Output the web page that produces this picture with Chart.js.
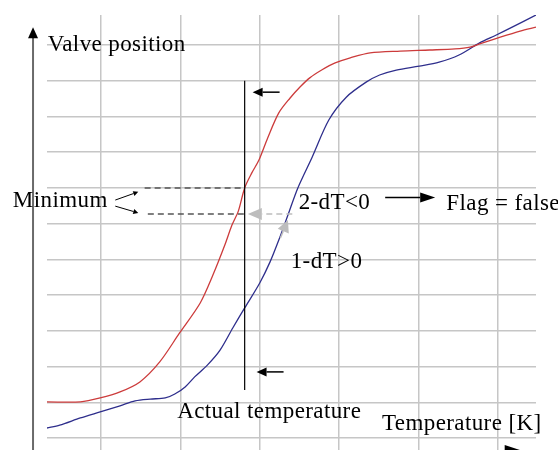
<!DOCTYPE html>
<html>
<head>
<meta charset="utf-8">
<script src="https://cdn.jsdelivr.net/npm/chart.js@4.4.1/dist/chart.umd.min.js"></script>
<style>
  html, body { margin: 0; padding: 0; background: #fff; }
  #wrap { width: 558px; height: 450px; position: relative; }
</style>
</head>
<body>
<div id="wrap"><canvas id="hysteresis-chart"></canvas></div>
<script>
// grid positions (temperature / valve position units)
const xGrid = [10, 20, 30, 40, 50, 60];
const yGrid = [0, 10, 20, 30, 40, 50, 60, 70, 80, 90, 100, 110];

// red curve (closing branch)
const redX = [3.2, 7.4, 9.9, 12.4, 14.9, 17.4, 19.9, 22.5, 24.1, 25.6, 26.5, 27.3, 28.1, 29.0, 29.9, 31.0,
  32.4, 33.8, 35.1, 36.3, 37.8, 39.5, 41.4, 43.9, 47.7, 51.4, 54.6, 56.5, 57.7, 60.3, 62.8, 64.8];
const redY = [10.1, 10.1, 11.2, 12.9, 15.7, 21.3, 29.4, 37.8, 45.6, 54.0, 59.6, 63.5, 70.0, 74.2, 77.8, 84.0,
  91.0, 95.1, 98.3, 100.8, 103.0, 105.0, 106.4, 107.8, 108.3, 108.6, 108.9, 109.4, 110.3, 112.2, 113.9, 115.0];

// blue curve (opening branch)
const blueX = [3.2, 4.8, 7.4, 9.9, 12.4, 14.3, 16.2, 18.1, 19.3, 20.6, 21.8, 23.4, 25.0, 26.6, 28.1, 30.0, 31.3,
  32.5, 33.6, 34.8, 36.6, 38.7, 40.9, 43.4, 45.1, 47.2, 50.1, 52.6, 55.1, 57.7, 59.8, 61.8, 64.8];
const blueY = [2.8, 3.6, 5.6, 7.3, 9.0, 10.4, 10.9, 11.2, 12.3, 14.3, 17.1, 20.4, 24.6, 30.8, 36.4, 43.4, 49.3,
  56.0, 62.7, 70.0, 78.6, 89.0, 95.4, 99.6, 101.6, 103.0, 104.1, 105.2, 107.2, 110.6, 112.8, 115.0, 118.4];

const actualTemp = 28.1;
const minimumHigh = 70.0;
const minimumLow = 62.7;

const toPoints = (xs, ys) => xs.map((x, i) => ({x: x, y: ys[i]}));

// draws axes arrows, helper lines and the text labels on top of the curves
const sketchPlugin = {
  id: "sketch",
  afterDatasetsDraw(chart) {
    const ctx = chart.ctx;
    const sx = v => chart.scales.x.getPixelForValue(v);
    const sy = v => chart.scales.y.getPixelForValue(v);

    const line = (x1, y1, x2, y2, color, width, dash) => {
      ctx.save();
      ctx.strokeStyle = color;
      ctx.lineWidth = width;
      ctx.setLineDash(dash || []);
      ctx.beginPath();
      ctx.moveTo(sx(x1), sy(y1));
      ctx.lineTo(sx(x2), sy(y2));
      ctx.stroke();
      ctx.restore();
    };
    // arrow from (x1,y1) to tip (x2,y2); head size in px
    const arrow = (x1, y1, x2, y2, color, width, len, half, dash) => {
      const ax = sx(x1), ay = sy(y1), bx = sx(x2), by = sy(y2);
      const ang = Math.atan2(by - ay, bx - ax);
      const baseX = bx - len * Math.cos(ang), baseY = by - len * Math.sin(ang);
      ctx.save();
      ctx.strokeStyle = color;
      ctx.fillStyle = color;
      ctx.lineWidth = width;
      ctx.setLineDash(dash || []);
      ctx.beginPath();
      ctx.moveTo(ax, ay);
      ctx.lineTo(baseX, baseY);
      ctx.stroke();
      ctx.setLineDash([]);
      ctx.beginPath();
      ctx.moveTo(bx, by);
      ctx.lineTo(baseX + half * Math.sin(ang), baseY - half * Math.cos(ang));
      ctx.lineTo(baseX - half * Math.sin(ang), baseY + half * Math.cos(ang));
      ctx.closePath();
      ctx.fill();
      ctx.restore();
    };
    const text = (str, x, y) => {
      ctx.save();
      ctx.fillStyle = "#000";
      ctx.font = "23px 'Liberation Serif', 'Times New Roman', serif";
      ctx.letterSpacing = "0.4px";
      ctx.textAlign = "left";
      ctx.textBaseline = "alphabetic";
      ctx.fillText(str, sx(x), sy(y));
      ctx.restore();
    };

    // axes
    line(1.44, -4, 1.44, 112, "#6a6a6a", 2);
    arrow(1.44, 112, 1.44, 115.0, "#000", 1, 11, 5);
    arrow(50, -3.9, 63.5, -3.9, "#000", 1.5, 21, 7);

    // actual temperature marker
    line(actualTemp, 100, actualTemp, 13.4, "#000", 1.2);
    arrow(32.5, 96.8, 29.1, 96.8, "#000", 1.5, 10, 4.5);
    arrow(33.0, 18.5, 29.6, 18.5, "#000", 1.5, 10, 4.5);

    // minimum dashed lines
    line(15.5, minimumHigh, actualTemp, minimumHigh, "#555", 1.5, [6, 4]);
    line(15.9, minimumLow, actualTemp, minimumLow, "#555", 1.5, [6, 4]);
    arrow(34.1, minimumLow, 28.5, minimumLow, "#bdbdbd", 1.5, 14, 6, [6, 4]);
    arrow(32.6, 56.0, 33.55, 61.0, "#bdbdbd", 1.5, 12, 6);

    // minimum pointers
    arrow(11.8, 66.6, 14.7, 68.9, "#000", 1, 5, 2.5);
    arrow(11.8, 64.9, 14.7, 63.0, "#000", 1, 5, 2.5);

    // flag arrow
    arrow(45.8, 67.3, 52.1, 67.3, "#000", 1.5, 15, 5);

    text("Valve position", 3.3, 108.3);
    text("Minimum", -1.1, 64.7);
    text("2-dT<0", 34.9, 64.1);
    text("Flag = false", 53.5, 63.8);
    text("1-dT>0", 33.9, 47.6);
    text("Actual temperature", 19.6, 5.6);
    text("Temperature [K]", 45.4, 2.2);
  },
};

const hysteresisChart = new Chart(document.getElementById("hysteresis-chart"), {
  type: "line",
  data: {
    datasets: [
      {
        label: "Closing",
        data: toPoints(redX, redY),
        borderColor: "#cc3b3b",
        borderWidth: 1.3,
        pointRadius: 0,
        tension: 0.3,
      },
      {
        label: "Opening",
        data: toPoints(blueX, blueY),
        borderColor: "#2e2e8c",
        borderWidth: 1.3,
        pointRadius: 0,
        tension: 0.3,
      },
    ],
  },
  options: {
    responsive: true,
    maintainAspectRatio: false,
    animation: false,
    layout: {
      padding: {left: 47, right: 22, top: 15, bottom: 0},
    },
    plugins: {
      legend: {display: false},
      tooltip: {enabled: false},
    },
    scales: {
      x: {
        type: "linear",
        min: 3.2,
        max: 64.8,
        afterBuildTicks: scale => {
          scale.ticks = xGrid.map(v => ({value: v}));
        },
        border: {display: false},
        grid: {color: "#c6c6c6", lineWidth: 1.5, drawTicks: false},
        ticks: {display: false},
      },
      y: {
        type: "linear",
        min: -3.36,
        max: 118.4,
        afterBuildTicks: scale => {
          scale.ticks = yGrid.map(v => ({value: v}));
        },
        border: {display: false},
        grid: {color: "#c6c6c6", lineWidth: 1.5, drawTicks: false},
        ticks: {display: false},
      },
    },
  },
  plugins: [sketchPlugin],
});
</script>
</body>
</html>
